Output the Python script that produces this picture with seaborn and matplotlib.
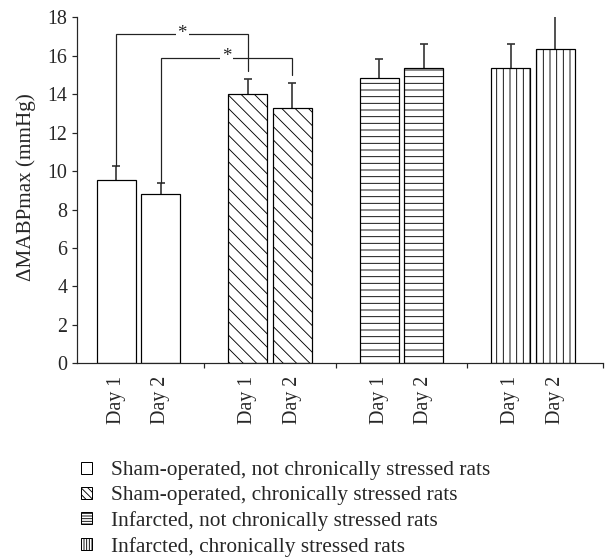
import numpy as np
import pandas as pd
import matplotlib
matplotlib.use("Agg")
import matplotlib.pyplot as plt
from matplotlib.patches import Patch
import seaborn as sns

# ---------------- data ----------------
groups = [
    "Sham-operated, not chronically stressed rats",
    "Sham-operated, chronically stressed rats",
    "Infarcted, not chronically stressed rats",
    "Infarcted, chronically stressed rats",
]
days = ["Day 1", "Day 2"]
day1_values = [9.55, 14.0, 14.85, 15.35]
day2_values = [8.8, 13.28, 15.35, 16.35]
day1_errors = [0.72, 0.79, 1.0, 1.25]
day2_errors = [0.6, 1.29, 1.26, 1.82]
hatches = ["", "\\\\", "--", "||"]
legend_hatches = ["", "\\\\\\\\", "-----", "|||||"]
y_ticks = [0, 2, 4, 6, 8, 10, 12, 14, 16, 18]
y_label = "ΔMABPmax (mmHg)"
# significance brackets: (day index, bracket level, right-leg bottom)
brackets = [(0, 17.12, 15.22), (1, 15.9, 14.98)]

# ---------------- style ----------------
sns.set_style("ticks")
plt.rcParams["font.family"] = ["Liberation Serif", "DejaVu Serif"]
plt.rcParams["hatch.linewidth"] = 0.8
plt.rcParams["hatch.color"] = "black"
plt.rcParams["axes.linewidth"] = 1.1

rows = []
for gi, g in enumerate(groups):
    rows.append(dict(group=g, day=days[0], value=day1_values[gi], err=day1_errors[gi]))
    rows.append(dict(group=g, day=days[1], value=day2_values[gi], err=day2_errors[gi]))
df = pd.DataFrame(rows)

DPI = 80
fig = plt.figure(figsize=(606 / DPI, 560 / DPI), dpi=DPI)
ax = fig.add_axes([77 / 606, 1 - 363.3 / 560, (602.7 - 77) / 606, 346 / 560])

sns.barplot(data=df, x="group", y="value", hue="day", order=groups,
            hue_order=days, palette=["white", "white"], saturation=1,
            edgecolor="black", linewidth=1.1, errorbar=None, width=0.674,
            gap=0.12, legend=False, ax=ax, zorder=2)

centers = {}
for p in ax.patches:
    xc = p.get_x() + p.get_width() / 2
    gi = int(round(xc))
    di = 0 if xc < gi else 1
    p.set_hatch(hatches[gi])
    p.set_edgecolor("black")
    centers[(gi, di)] = xc

# error bars (upper only)
for (gi, di), xc in centers.items():
    v = (day1_values if di == 0 else day2_values)[gi]
    e = (day1_errors if di == 0 else day2_errors)[gi]
    eb = ax.errorbar([xc], [v], yerr=[[0], [e]], fmt="none", ecolor="#333333",
                     elinewidth=1.5, capsize=3.2, capthick=1.5, zorder=1)
    caps = eb[1]
    if len(caps) == 2:
        caps[0].set_visible(False)

# significance brackets
for di, level, right_bottom in brackets:
    vals = day1_values if di == 0 else day2_values
    errs = day1_errors if di == 0 else day2_errors
    x0 = centers[(0, di)]
    x1 = centers[(1, di)]
    left_bottom = vals[0] + errs[0]
    ax.plot([x0, x0, x1, x1], [left_bottom, level, level, right_bottom],
            color="#222222", lw=1.1, zorder=3, solid_joinstyle="miter")
    ax.text((x0 + x1) / 2, level + 0.05, "*", ha="center", va="center",
            fontsize=17, zorder=4,
            bbox=dict(facecolor="white", edgecolor="none", pad=1.5))

ax.set_xlim(-0.468, 3.53)
ax.set_ylim(0, 18)
ax.set_yticks(y_ticks)
ax.set_ylabel(y_label, fontsize=19)
ax.yaxis.set_label_coords(-0.078, 0.51)
ax.set_xlabel("")

# x ticks: group boundaries as short marks, day labels at bar centres
xl = ax.get_xlim()
ax.set_xticks([0.5, 1.5, 2.5, xl[1]])
ax.set_xticklabels([])
xs = sorted(centers.items(), key=lambda kv: kv[1])
ax.set_xticks([c for _, c in xs], minor=True)
ax.set_xticklabels([days[k[1]] for k, _ in xs], minor=True, rotation=90,
                   fontsize=18)
ax.tick_params(axis="x", which="major", length=4.5, width=1.1, direction="out")
ax.tick_params(axis="x", which="minor", length=0, pad=11)
ax.tick_params(axis="y", length=4.5, width=1.1, pad=4, labelsize=18)
for s in ["top", "right"]:
    ax.spines[s].set_visible(False)

handles = [Patch(facecolor="white", edgecolor="black", hatch=h, linewidth=0.9)
           for h in legend_hatches]
fig.legend(handles, groups, loc="upper left",
           bbox_to_anchor=(80.5 / 606, 1 - 461.5 / 560), frameon=False,
           fontsize=19.2, handlelength=0.56, handleheight=0.47,
           handletextpad=0.85, labelspacing=0.27, borderpad=0,
           borderaxespad=0)

fig.savefig("out.png", dpi=DPI)
